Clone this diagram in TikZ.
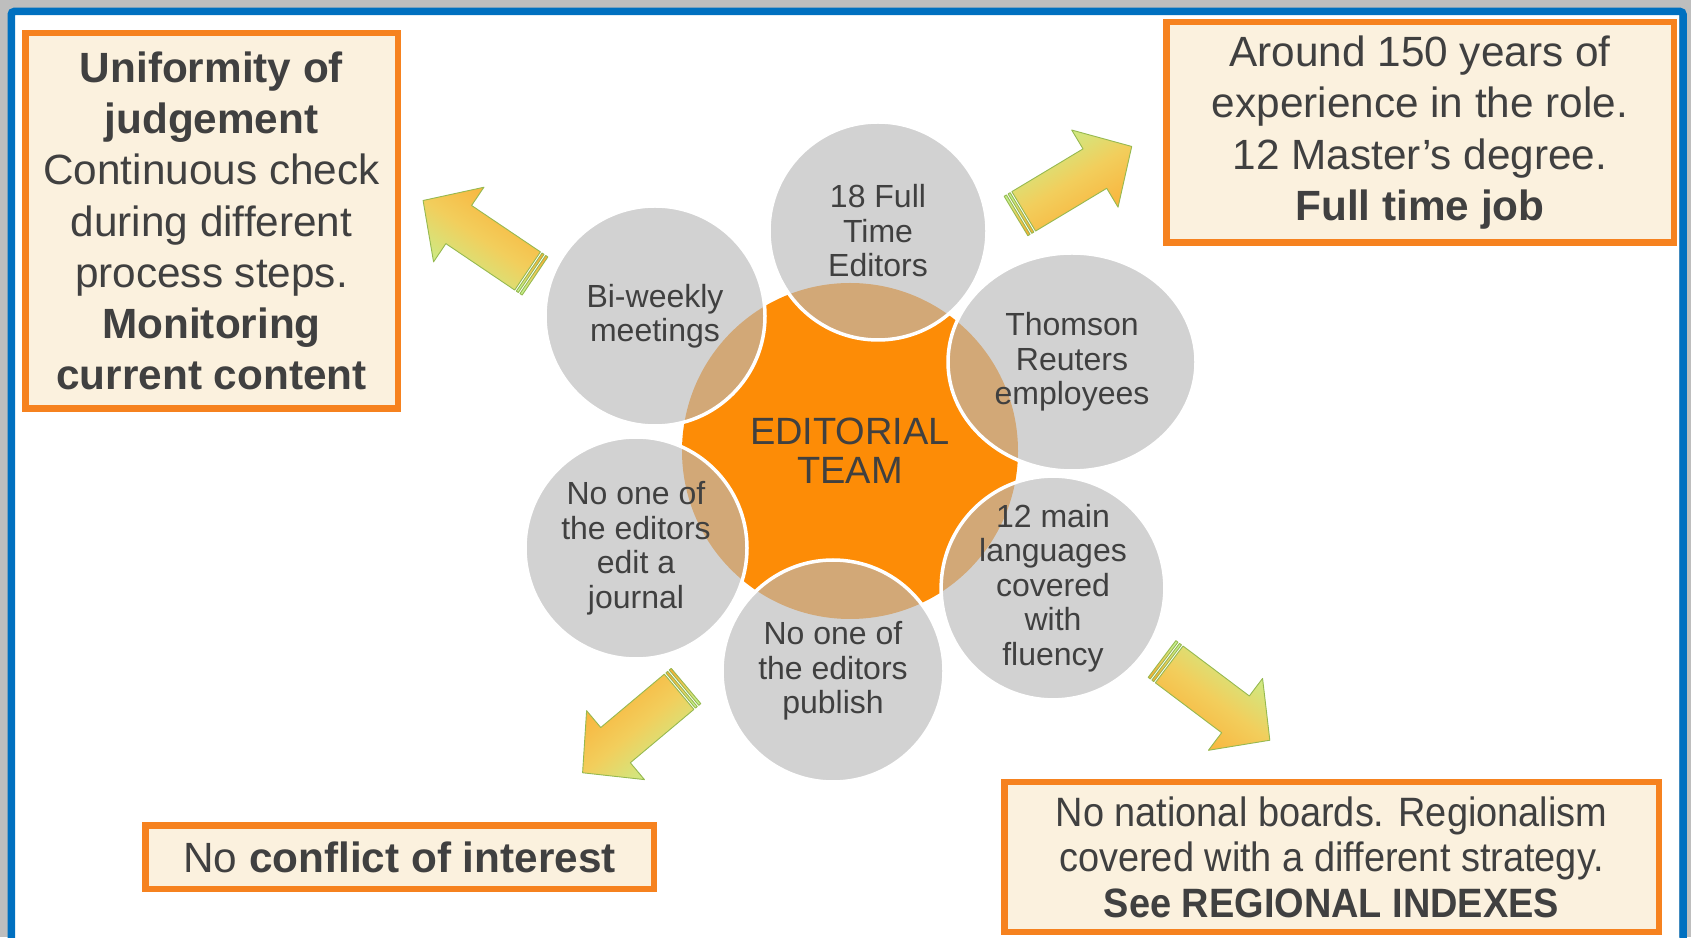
\documentclass[tikz,border=0pt]{standalone}
\usepackage{fontspec}
\setmainfont{Liberation Sans}
\newfontfamily\narrowfont[FakeStretch=0.925]{Liberation Sans}
\usetikzlibrary{calc,shapes.geometric}
\definecolor{frameblue}{RGB}{0,112,192}
\definecolor{shadowgray}{RGB}{190,190,190}
\definecolor{boxorange}{RGB}{246,130,31}
\definecolor{cream}{RGB}{251,241,222}
\definecolor{txt}{RGB}{64,64,64}
\definecolor{coreorange}{RGB}{253,140,6}
\definecolor{petalgray}{RGB}{185,185,185}
\definecolor{agreen}{RGB}{198,240,140}
\definecolor{aorange}{RGB}{250,176,56}
\definecolor{amid}{RGB}{242,206,92}
\definecolor{aedge}{RGB}{150,185,80}
\tikzset{
  infobox/.style={draw=boxorange, line width=6.5pt, fill=cream, inner sep=0pt,
    align=center, text=txt, font=\fontsize{42.3}{51.2}\selectfont},
  petal/.style={circle, fill=petalgray, fill opacity=0.63, text opacity=1,
    draw=white, draw opacity=1, line width=3.5pt, minimum size=#1, inner sep=0pt,
    align=center, text=txt, font=\fontsize{32}{34.5}\selectfont},
  petalellipse/.style={ellipse, fill=petalgray, fill opacity=0.63, text opacity=1,
    draw=white, draw opacity=1, line width=3.5pt, inner sep=0pt,
    align=center, text=txt, font=\fontsize{32}{34.5}\selectfont},
  corecircle/.style={circle, fill=coreorange, minimum size=336pt, inner sep=0pt,
    align=center, text=txt, font=\fontsize{38}{39}\selectfont},
  arrowbody/.style={top color=agreen, bottom color=aorange, middle color=amid,
    draw=aedge, line width=0.9pt, line join=round}
}
\newcommand{\stripedarrow}[3]{%
  \coordinate (#1) at #2;
  \shade[arrowbody, shading angle=#3]
    ($(#1)+(#3:9)+(#3+90:23)$) -- ($(#1)+(#3:92)+(#3+90:23)$) --
    ($(#1)+(#3:92)+(#3+90:45)$) -- ($(#1)+(#3:135)$) --
    ($(#1)+(#3:92)+(#3-90:45)$) -- ($(#1)+(#3:92)+(#3-90:23)$) --
    ($(#1)+(#3:9)+(#3-90:23)$) -- cycle;
  \shade[arrowbody, shading angle=#3]
    ($(#1)+(#3:0)+(#3+90:23)$) -- ($(#1)+(#3:2.6)+(#3+90:23)$) --
    ($(#1)+(#3:2.6)+(#3-90:23)$) -- ($(#1)+(#3:0)+(#3-90:23)$) -- cycle;
  \shade[arrowbody, shading angle=#3]
    ($(#1)+(#3:4.6)+(#3+90:23)$) -- ($(#1)+(#3:7)+(#3+90:23)$) --
    ($(#1)+(#3:7)+(#3-90:23)$) -- ($(#1)+(#3:4.6)+(#3-90:23)$) -- cycle;
}
\begin{document}
\begin{tikzpicture}[x=1pt,y=1pt]
\useasboundingbox (0,0) rectangle (1691,937);
\clip (0,0) rectangle (1691,937);
% background, shadow and frame
\fill[shadowgray] (0,0) rectangle (1691,937);
\fill[white] (15,-20) rectangle (1679.25,921.75);
\draw[frameblue, line width=7.5pt, rounded corners=3pt] (11.25,-20) rectangle (1683,925.5);

% central cluster
\node[corecircle] (core) at (850,486) {EDITORIAL\\TEAM};
\node[petal=218pt] (full) at (878,706) {18 Full\\Time\\Editors};
\node[petal=220pt] (biweekly) at (655,621) {Bi-weekly\\meetings};
\node[petalellipse, minimum width=248pt, minimum height=218pt] (thomson) at (1072,575) {Thomson\\Reuters\\employees};
\node[petal=222pt] (langs) at (1053,349) {12 main\\languages\\covered\\with\\fluency};
\node[petal=222pt] (publish) at (833,266) {No one of\\the editors\\publish};
\node[petal=222pt] (journal) at (636,389) {No one of\\the editors\\edit a\\journal};

% arrows
\stripedarrow{a1}{(535,661)}{146}
\stripedarrow{a2}{(1016,721)}{31}
\stripedarrow{a3}{(686,251)}{220}
\stripedarrow{a4}{(1162,278)}{-37}

% boxes
\node[infobox, minimum width=372.5pt, minimum height=375.5pt] (judge) at (211.5,716)
  {{\bfseries Uniformity of}\\{\bfseries judgement}\\Continuous check\\during different\\process steps.\\{\bfseries Monitoring}\\{\bfseries current content}};
\node[infobox, minimum width=507.5pt, minimum height=220.5pt] (experience) at (1420,804.5)
  {Around 150 years of\\experience in the role.\\12 Master’s degree.\\{\bfseries Full time job}};
\node[infobox, minimum width=508.5pt, minimum height=63.5pt] (conflict) at (399.5,80)
  {No {\bfseries conflict of interest}};
\node[infobox, minimum width=654.5pt, minimum height=149.5pt,
  font=\narrowfont\fontsize{41}{45.5}\selectfont] (regional) at (1331.5,80)
  {No national boards. Regionalism\\covered with a different strategy.\\{\bfseries See REGIONAL INDEXES}};
\end{tikzpicture}
\end{document}
